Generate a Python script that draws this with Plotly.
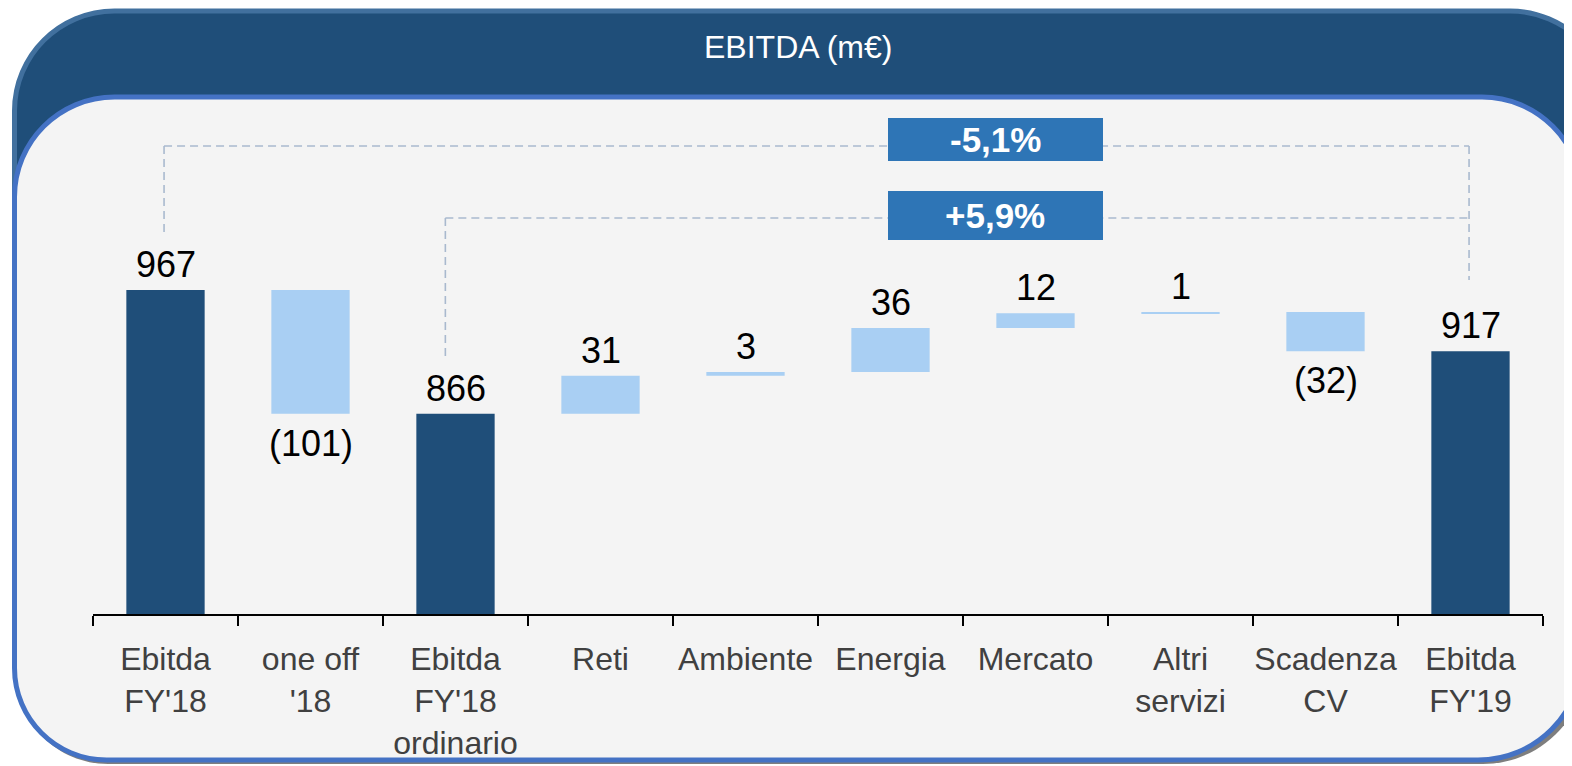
import plotly.graph_objects as go

# ---------------- data ----------------
categories = ["Ebitda<br>FY'18", "one off<br>'18", "Ebitda<br>FY'18<br>ordinario", "Reti", "Ambiente",
              "Energia", "Mercato", "Altri<br>servizi", "Scadenza<br>CV", "Ebitda<br>FY'19"]
values = [967, -101, 866, 31, 3, 36, 12, 1, -32, 917]
measures = ["total", "delta", "total", "delta", "delta", "delta", "delta", "delta", "delta", "total"]
value_labels = ["967", "(101)", "866", "31", "3", "36", "12", "1", "(32)", "917"]
pct_labels = ["-5,1%", "+5,9%"]
title_text = "EBITDA (m€)"

# ---------------- geometry / style ----------------
W, H = 1572, 766
OFF = 8  # page body margin compensation
Y_MIN = 702.5
PX_PER_UNIT = 1.225
AX_BOTTOM_PX = 614
PLOT_TOP_PX = 100
Y_MAX = Y_MIN + (AX_BOTTOM_PX - PLOT_TOP_PX) / PX_PER_UNIT
X_LEFT_PX, X_RIGHT_PX = 93, 1543

DARK = "#1F4E79"
LIGHT = "#A9CFF3"
PANEL = "#F4F4F4"
DASH_COL = "#A9B9CE"
BOX_COL = "#2E75B6"
FONT = "Liberation Sans, Arial, sans-serif"


def px(x):
    return (x - OFF) / W


def py(y):
    return 1 - (y - OFF) / H


def rounded_rect(x0, y0, x1, y1, r_tl, r_tr, r_br, r_bl):
    k = 0.5523
    pts = []
    pts.append(f"M {px(x0 + r_tl)},{py(y0)}")
    pts.append(f"L {px(x1 - r_tr)},{py(y0)}")
    pts.append(f"C {px(x1 - r_tr + k * r_tr)},{py(y0)} {px(x1)},{py(y0 + r_tr - k * r_tr)} {px(x1)},{py(y0 + r_tr)}")
    pts.append(f"L {px(x1)},{py(y1 - r_br)}")
    pts.append(f"C {px(x1)},{py(y1 - r_br + k * r_br)} {px(x1 - r_br + k * r_br)},{py(y1)} {px(x1 - r_br)},{py(y1)}")
    pts.append(f"L {px(x0 + r_bl)},{py(y1)}")
    pts.append(f"C {px(x0 + r_bl - k * r_bl)},{py(y1)} {px(x0)},{py(y1 - r_bl + k * r_bl)} {px(x0)},{py(y1 - r_bl)}")
    pts.append(f"L {px(x0)},{py(y0 + r_tl)}")
    pts.append(f"C {px(x0)},{py(y0 + r_tl - k * r_tl)} {px(x0 + r_tl - k * r_tl)},{py(y0)} {px(x0 + r_tl)},{py(y0)}")
    pts.append("Z")
    return " ".join(pts)


# ---------------- waterfall geometry from data ----------------
bases, heights, colors, tops, bottoms = [], [], [], [], []
running = 0
for v, m in zip(values, measures):
    if m == "total":
        running = v
        bases.append(Y_MIN)
        heights.append(v - Y_MIN)
        colors.append(DARK)
        tops.append(v)
        bottoms.append(Y_MIN)
    else:
        lo, hi = min(running, running + v), max(running, running + v)
        bases.append(lo)
        heights.append(hi - lo)
        colors.append(LIGHT)
        tops.append(hi)
        bottoms.append(lo)
        running += v

fig = go.Figure()
fig.add_trace(go.Bar(
    x=categories, y=heights, base=bases,
    marker=dict(color=colors, line=dict(width=0)),
    width=0.54, hoverinfo="skip", showlegend=False,
))

shapes = []
# outer dark header panel
shapes.append(dict(type="path", xref="paper", yref="paper", layer="below",
                   path=rounded_rect(14.5, 11, 1610, 490, 100, 100, 0, 0),
                   fillcolor=DARK, line=dict(color="#41709E", width=5)))
# shadow of inner panel
shapes.append(dict(type="path", xref="paper", yref="paper", layer="below",
                   path=rounded_rect(16, 101, 1587, 764, 100, 100, 104, 92),
                   fillcolor="rgba(40,40,40,0.6)", line=dict(width=0)))
# inner light panel
shapes.append(dict(type="path", xref="paper", yref="paper", layer="below",
                   path=rounded_rect(14.5, 97, 1582, 760, 100, 100, 104, 92),
                   fillcolor=PANEL, line=dict(color="#4472C4", width=5)))

# dashed connectors (bracket lines between compared totals)
dash = dict(color=DASH_COL, width=1.6, dash="8px,5px")
brackets = [
    # (left index, right index, y of horizontal px, left vertical end px, right vertical end px, left offset)
    (0, 9, 146, 233, 280, -0.01),
    (2, 9, 218, 360, None, -0.07),
]
for li, ri, ypx, lend, rend, loff in brackets:
    shapes.append(dict(type="line", xref="x", yref="paper", x0=li + loff, x1=ri - 0.01,
                       y0=py(ypx), y1=py(ypx), line=dash))
    shapes.append(dict(type="line", xref="x", yref="paper", x0=li + loff, x1=li + loff,
                       y0=py(ypx), y1=py(lend), line=dash))
    if rend is not None:
        shapes.append(dict(type="line", xref="x", yref="paper", x0=ri - 0.01, x1=ri - 0.01,
                           y0=py(ypx), y1=py(rend), line=dash))

# percentage boxes
box_rows = [(118, 161), (191, 240)]
for (t, b) in box_rows:
    shapes.append(dict(type="rect", xref="paper", yref="paper",
                       x0=px(888), x1=px(1103), y0=py(b), y1=py(t),
                       fillcolor=BOX_COL, line=dict(width=0)))

annotations = []
for (t, b), lab in zip(box_rows, pct_labels):
    annotations.append(dict(xref="paper", yref="paper", x=px(995.5), y=py((t + b) / 2),
                            text=f"<b>{lab}</b>", showarrow=False,
                            font=dict(family=FONT, size=35, color="white"),
                            xanchor="center", yanchor="middle"))

# value labels
for i, (lab, m, v) in enumerate(zip(value_labels, measures, values)):
    if m == "delta" and v < 0:
        annotations.append(dict(x=i, y=bottoms[i], xref="x", yref="y", text=lab, showarrow=False,
                                yanchor="top", yshift=-7,
                                font=dict(family=FONT, size=36, color="black")))
    else:
        annotations.append(dict(x=i, y=tops[i], xref="x", yref="y", text=lab, showarrow=False,
                                yanchor="bottom", yshift=3,
                                font=dict(family=FONT, size=36, color="black")))

# title
annotations.append(dict(xref="paper", yref="paper", x=px(798), y=py(47), text=title_text,
                        showarrow=False, xanchor="center", yanchor="middle",
                        font=dict(family=FONT, size=32, color="white")))

fig.update_layout(
    width=W, height=H,
    margin=dict(l=0, r=0, t=0, b=0),
    paper_bgcolor="white",
    plot_bgcolor="rgba(0,0,0,0)",
    shapes=shapes,
    annotations=annotations,
    xaxis=dict(
        type="category", domain=[px(X_LEFT_PX), px(X_RIGHT_PX)],
        range=[-0.5, len(categories) - 0.5],
        tickson="boundaries", ticks="outside", ticklen=10, tickwidth=2, tickcolor="black",
        tickangle=0, ticklabelstandoff=16,
        showline=True, linecolor="black", linewidth=2,
        showgrid=False, zeroline=False,
        tickfont=dict(family=FONT, size=32, color="#404040"),
        fixedrange=True,
    ),
    yaxis=dict(
        domain=[py(AX_BOTTOM_PX), py(PLOT_TOP_PX)],
        range=[Y_MIN, Y_MAX], visible=False, showgrid=False, zeroline=False, fixedrange=True,
    ),
)

fig.write_html("out.html", config={"displayModeBar": False})
